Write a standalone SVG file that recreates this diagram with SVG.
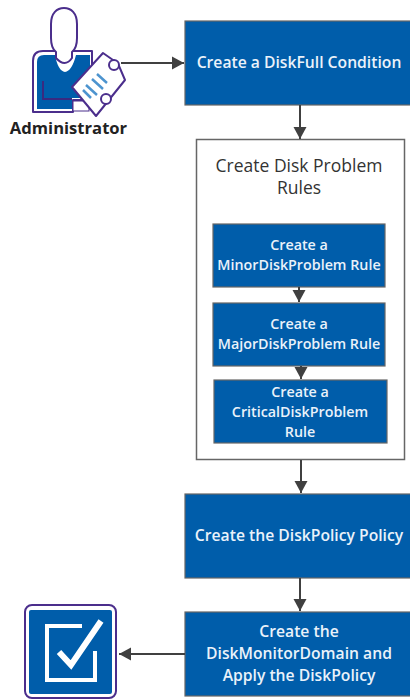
<svg xmlns="http://www.w3.org/2000/svg" width="410" height="700" viewBox="0 0 410 700">
<defs>
<marker id="arr" markerUnits="userSpaceOnUse" markerWidth="14" markerHeight="14" refX="12" refY="7" orient="auto"><path d="M0 0.5 L12 7 L0 13.500 Z" fill="#404040"/></marker>
</defs>
<style>
.box{fill:#005daa;stroke:#666;stroke-width:1.200}
.t{font-family:"Open Sans","Liberation Sans",sans-serif;font-weight:600;fill:#eaf2fa;text-anchor:middle}
.s{font-size:14.300px}.b{font-size:15.700px}
.h{font-family:"Open Sans","Liberation Sans",sans-serif;font-size:17.500px;fill:#333;text-anchor:middle}
.c{fill:none;stroke:#404040;stroke-width:2;marker-end:url(#arr)}
.p{stroke:#4b2e8c;stroke-width:2;stroke-linejoin:round}
</style>
<rect width="410" height="700" fill="#fff"/>
<g id="administrator">
<path class="p" d="M33 112 V61 Q33 51 43 51 H92 V100 H73 V112 Z" fill="#fff"/>
<path d="M37 109 V62 Q37 55 44 55 H55 Q58 71 65 72 Q72 71 76 55 H90 V98 H72 V109 Z" fill="#005daa"/>
<path d="M43 81 V99 H72" fill="none" stroke="#3a2a80" stroke-width="2"/>
<rect x="73" y="101" width="16" height="10" fill="#fff" stroke="#4b2e8c" stroke-width="1"/>
<path class="p" d="M51 24 C51 13 57 8 64 8 C71 8 77 13 77 24 V38 Q77 48 72 52 V58 Q65 68 56 58 V52 Q51 48 51 38 Z" fill="#fff"/>
<path class="p" d="M72 87 L103 53 L113 60 L119 66 L125 80 L96 116 Z" fill="#fff"/>
<circle cx="114" cy="65" r="5" fill="#fff" stroke="#4b2e8c" stroke-width="2"/>
<circle cx="106" cy="99" r="5" fill="#fff" stroke="#4b2e8c" stroke-width="2"/>
<path d="M83 90L91 98M86 85L97 95M92 79L103 89M97 74L107 83" stroke="#4d94cf" stroke-width="2.500" fill="none"/>
<text x="68.500" y="134" font-family="'Open Sans','Liberation Sans',sans-serif" font-weight="700" font-size="16.600" fill="#222" text-anchor="middle">Administrator</text>
</g>
<g id="create-diskfull"><rect class="box" x="185" y="21" width="229" height="84"/><text class="t b" x="299" y="67.500">Create a DiskFull Condition</text></g>
<g id="rules-group"><rect x="196.500" y="139.500" width="208" height="320" fill="#fff" stroke="#666" stroke-width="1.500"/>
<text class="h" x="299" y="172">Create Disk Problem</text>
<text class="h" x="299" y="194">Rules</text></g>
<g id="minor"><rect class="box" x="213" y="224" width="172" height="63"/><text class="t s" x="299" y="250">Create a</text><text class="t s" x="299" y="270">MinorDiskProblem Rule</text></g>
<g id="major"><rect class="box" x="213" y="303" width="172" height="63"/><text class="t s" x="299" y="329">Create a</text><text class="t s" x="299" y="349">MajorDiskProblem Rule</text></g>
<g id="critical"><rect class="box" x="214" y="380" width="173" height="63"/><text class="t s" x="300" y="397">Create a</text><text class="t s" x="300" y="417">CriticalDiskProblem</text><text class="t s" x="300" y="437">Rule</text></g>
<g id="create-policy"><rect class="box" x="185" y="494" width="229" height="84"/><text class="t b" x="299" y="540.500">Create the DiskPolicy Policy</text></g>
<g id="create-domain"><rect class="box" x="185" y="612" width="229" height="84"/><text class="t b" x="299" y="636.500">Create the</text><text class="t b" x="299" y="658.500">DiskMonitorDomain and</text><text class="t b" x="299" y="680.500">Apply the DiskPolicy</text></g>
<g id="done">
<rect x="25" y="605" width="91" height="93" rx="7" fill="#fff" stroke="#4b2e8c" stroke-width="2"/>
<rect x="29" y="610" width="83" height="84" rx="2" fill="#005daa"/>
<path d="M82 626H47V680H95V651" fill="none" stroke="#fff" stroke-width="4"/>
<path d="M59 652L71 665L101 621" fill="none" stroke="#fff" stroke-width="6"/>
</g>
<g id="connectors">
<path class="c" d="M121 63H184"/>
<path class="c" d="M300 105V139"/>
<path class="c" d="M299 287V302"/>
<path class="c" d="M301 366V379"/>
<path class="c" d="M301 460V493"/>
<path class="c" d="M300 578V611"/>
<path class="c" d="M185 654H119"/>
</g>
</svg>
